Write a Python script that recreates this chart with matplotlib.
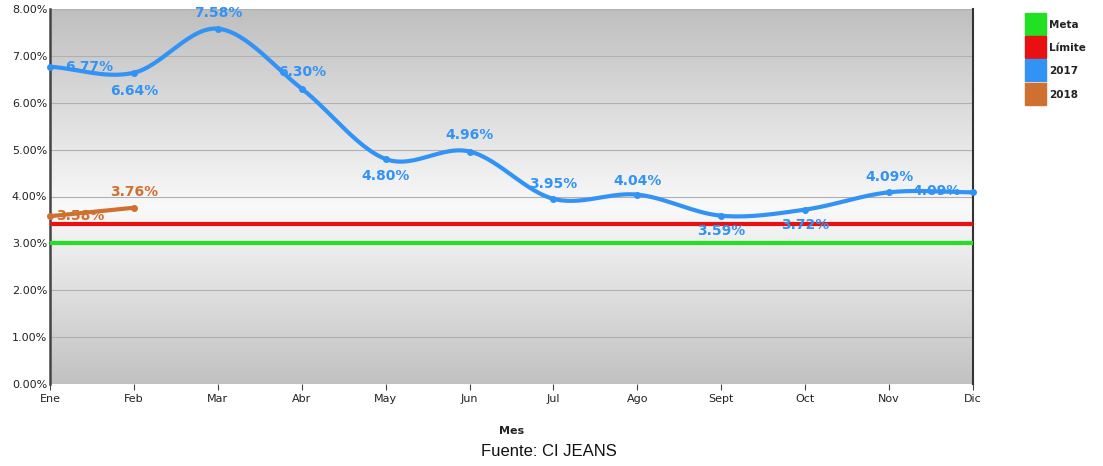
import numpy as np
import matplotlib
matplotlib.use("Agg")
import matplotlib.pyplot as plt
from matplotlib.patches import Rectangle

months = ["Ene", "Feb", "Mar", "Abr", "May", "Jun", "Jul", "Ago", "Sept", "Oct", "Nov", "Dic"]
v2017 = [6.77, 6.64, 7.58, 6.30, 4.80, 4.96, 3.95, 4.04, 3.59, 3.72, 4.09, 4.09]
v2018 = [3.58, 3.76]
meta = 3.00
limite = 3.41
yticks = [0, 1, 2, 3, 4, 5, 6, 7, 8]

C_META = "#22e022"
C_LIM = "#e81010"
C_2017 = "#3393f5"
C_2018 = "#d07030"

fig = plt.figure(figsize=(11.03, 4.66), dpi=100)
ax = fig.add_axes([50/1103, 1-384/466, 923/1103, 375/466])

x = np.arange(len(months))
ax.set_xlim(0, len(months)-1)
ax.set_ylim(0, 8)

# gradient background
grad = np.concatenate([np.linspace(0.76, 0.975, 47), np.linspace(0.975, 0.75, 53)])
img = np.stack([grad, grad, grad], axis=1)[:, None, :]
ax.imshow(img, extent=[0, len(months)-1, 8, 0], aspect="auto", zorder=0,
          origin="upper", interpolation="bicubic")
ax.set_ylim(0, 8)

for t in yticks[1:]:
    ax.axhline(t, color="#b0b0b0", lw=0.8, zorder=1)

# Catmull-Rom spline through 2017 points
def catmull(xs, ys, n=30):
    xs = np.asarray(xs, float); ys = np.asarray(ys, float)
    px = np.concatenate([[2*xs[0]-xs[1]], xs, [2*xs[-1]-xs[-2]]])
    py = np.concatenate([[2*ys[0]-ys[1]], ys, [2*ys[-1]-ys[-2]]])
    ox, oy = [], []
    for i in range(1, len(px)-2):
        t = np.linspace(0, 1, n, endpoint=False)
        for arr, out in ((px, ox), (py, oy)):
            p0, p1, p2, p3 = arr[i-1], arr[i], arr[i+1], arr[i+2]
            out.extend(0.5*((2*p1) + (-p0+p2)*t + (2*p0-5*p1+4*p2-p3)*t**2 + (-p0+3*p1-3*p2+p3)*t**3))
    ox.append(xs[-1]); oy.append(ys[-1])
    return np.array(ox), np.array(oy)

ax.axhline(meta, color=C_META, lw=3, zorder=3)
ax.axhline(limite, color=C_LIM, lw=3, zorder=3)

sx, sy = catmull(x, v2017)
ax.plot(sx, sy, color=C_2017, lw=3, zorder=4, solid_capstyle="round")
ax.plot(x, v2017, "o", color=C_2017, ms=4, zorder=5, clip_on=False)
ax.plot(x[:len(v2018)], v2018, color=C_2018, lw=3, marker="o", ms=4, zorder=5, clip_on=False)

# label offsets (points)
off2017 = [(28, 0), (0, -13), (0, 11), (0, 12), (0, -12), (0, 12), (0, 11), (0, 10), (0, -11), (0, -11), (0, 11), (-26, 1)]
for xi, v, (dx, dy) in zip(x, v2017, off2017):
    ax.annotate(f"{v:.2f}%", (xi, v), xytext=(dx, dy), textcoords="offset points",
                ha="center", va="center", color=C_2017, fontsize=10, fontweight="bold", zorder=6,
                annotation_clip=False)
off2018 = [(22, 0), (0, 11)]
for xi, v, (dx, dy) in zip(x, v2018, off2018):
    ax.annotate(f"{v:.2f}%", (xi, v), xytext=(dx, dy), textcoords="offset points",
                ha="center", va="center", color=C_2018, fontsize=10, fontweight="bold", zorder=6,
                annotation_clip=False)

ax.set_yticks(yticks)
ax.set_yticklabels([f"{t:.2f}%" for t in yticks], fontsize=8, color="#222222")
ax.set_xticks(x)
ax.set_xticklabels(months, fontsize=8, color="#222222")
ax.tick_params(axis="y", length=0, pad=2)
ax.tick_params(axis="x", length=4, color="#444444", pad=3, direction="out")
for s in ["top", "bottom"]:
    ax.spines[s].set_visible(False)
ax.spines["left"].set_color("#444444")
ax.spines["left"].set_linewidth(1.8)
ax.spines["right"].set_color("#333333")
ax.spines["right"].set_linewidth(1.5)

fig.text(512/1103, 1-431/466, "Mes", ha="center", va="center", fontsize=8, fontweight="bold", color="#222222")
fig.text(549/1103, 1-451/466, "Fuente: CI JEANS", ha="center", va="center", fontsize=12,
         family="Liberation Sans", color="#111111")

# legend
leg_names = ["Meta", "Límite", "2017", "2018"]
leg_cols = [C_META, C_LIM, C_2017, C_2018]
for i, (n, c) in enumerate(zip(leg_names, leg_cols)):
    top = 13 + i*23.2
    fig.patches.append(Rectangle((1025/1103, 1-(top+22)/466), 21/1103, 22/466,
                                 transform=fig.transFigure, color=c, figure=fig))
    fig.text(1049/1103, 1-(top+12)/466, n, ha="left", va="center", fontsize=7.5,
             fontweight="bold", color="#222222")

fig.savefig("out.png", dpi=100)
